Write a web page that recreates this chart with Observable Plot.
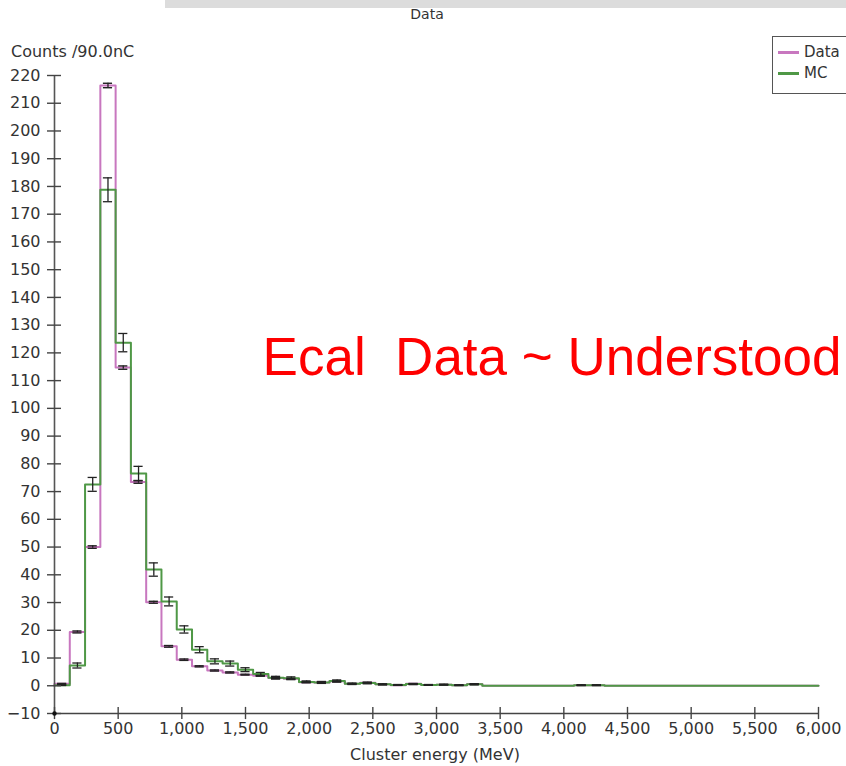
<!DOCTYPE html>
<html><head><meta charset="utf-8">
<script src="https://cdn.jsdelivr.net/npm/d3@7"></script>
<script src="https://cdn.jsdelivr.net/npm/@observablehq/plot@0.6"></script>
<style>
body{margin:0;background:#fff;}
#wrap{position:relative;width:846px;height:766px;overflow:hidden;font-family:"DejaVu Sans",sans-serif;color:#333;background:#fff;}
.abs{position:absolute;white-space:nowrap;line-height:20px;height:20px;}
#wrap svg{position:absolute;left:0;top:0;}
</style></head><body><div id="wrap"></div>
<script>
// Histogram bins: 50 bins of 120 MeV from 0 to 6000 MeV
const binEdges = d3.range(0, 6000, 120);
const dataCounts = [0.7, 19.4, 50.0, 216.4, 114.7, 73.5, 30.1, 14.2, 9.4, 7.0,
  5.5, 4.8, 4.0, 3.6, 2.8, 2.5, 1.3, 1.2, 1.6, 0.7,
  1.1, 0.5, 0.2, 0.7, 0.3, 0.4, 0.2, 0.6, 0, 0,
  0, 0, 0, 0, 0.2, 0.2, 0, 0, 0, 0,
  0, 0, 0, 0, 0, 0, 0, 0, 0, 0];
const dataErr = [0.15, 0.35, 0.45, 0.8, 0.6, 0.5, 0.35, 0.3, 0.25, 0.2,
  0.2, 0.2, 0.15, 0.15, 0.15, 0.15, 0.1, 0.1, 0.12, 0.1,
  0.1, 0.08, 0.06, 0.1, 0.06, 0.06, 0.06, 0.1, 0, 0,
  0, 0, 0, 0, 0.06, 0.06, 0, 0, 0, 0,
  0, 0, 0, 0, 0, 0, 0, 0, 0, 0];
const mcCounts = [0.2, 7.3, 72.6, 178.8, 123.7, 76.5, 41.9, 30.4, 20.3, 13.0,
  8.8, 8.0, 5.8, 4.2, 2.9, 2.7, 1.4, 1.2, 1.7, 0.7,
  1.0, 0.5, 0.3, 0.6, 0.3, 0.4, 0.2, 0.5, 0, 0,
  0, 0, 0, 0, 0.2, 0.2, 0, 0, 0, 0,
  0, 0, 0, 0, 0, 0, 0, 0, 0, 0];
const mcErr = [0.1, 0.9, 2.5, 4.3, 3.3, 2.6, 2.4, 1.6, 1.3, 1.1,
  0.9, 0.9, 0.7, 0.6, 0.5, 0.5, 0.35, 0.35, 0.4, 0.25,
  0.3, 0.2, 0.15, 0.2, 0.15, 0.15, 0.12, 0.2, 0, 0,
  0, 0, 0, 0, 0.12, 0.12, 0, 0, 0, 0,
  0, 0, 0, 0, 0, 0, 0, 0, 0, 0];
const xTicks = [0, 500, 1000, 1500, 2000, 2500, 3000, 3500, 4000, 4500, 5000, 5500, 6000];
const yTicks = [-10, 0, 10, 20, 30, 40, 50, 60, 70, 80, 90, 100, 110, 120, 130, 140, 150, 160, 170, 180, 190, 200, 210, 220];
const seriesNames = ["Data", "MC"];
const seriesColors = ["#c877bf", "#4f9846"];
const xLabel = "Cluster energy (MeV)";
const yLabel = "Counts /90.0nC";
const title = "Data";
const annotation = "Ecal\u00a0 Data ~ Understood";

const binW = 120;
function steps(vals) {
  const pts = [{x: 0, y: 0}];
  binEdges.forEach((e, i) => pts.push({x: e, y: vals[i]}));
  pts.push({x: 6000, y: 0});
  return pts;
}
function errs(vals, e) {
  return binEdges.map((s, i) => ({c: s + binW / 2, v: vals[i], e: e[i]})).filter(d => d.v > 0 && d.e > 0);
}
const dErr = errs(dataCounts, dataErr);
const mErr = errs(mcCounts, mcErr);
const capHalf = 36;

const chart = Plot.plot({
  width: 846, height: 766,
  marginLeft: 54, marginRight: 28, marginTop: 75, marginBottom: 53,
  x: {domain: [0, 6000]},
  y: {domain: [-10, 220]},
  style: {fontFamily: "DejaVu Sans, sans-serif", fontSize: "16px", background: "transparent", overflow: "visible"},
  marks: [
    Plot.line(steps(dataCounts), {x: "x", y: "y", curve: "step-after", stroke: seriesColors[0], strokeWidth: 2}),
    Plot.line(steps(mcCounts), {x: "x", y: "y", curve: "step-after", stroke: seriesColors[1], strokeWidth: 2}),
    // MC error bars
    Plot.ruleX(mErr, {x: "c", y1: d => d.v - d.e, y2: d => d.v + d.e, stroke: "#222", strokeWidth: 1.3}),
    Plot.ruleY(mErr, {y: d => d.v - d.e, x1: d => d.c - capHalf, x2: d => d.c + capHalf, stroke: "#222", strokeWidth: 1.3}),
    Plot.ruleY(mErr, {y: d => d.v + d.e, x1: d => d.c - capHalf, x2: d => d.c + capHalf, stroke: "#222", strokeWidth: 1.3}),
    // Data error bars
    Plot.ruleX(dErr, {x: "c", y1: d => d.v - d.e, y2: d => d.v + d.e, stroke: "#222", strokeWidth: 1.3}),
    Plot.ruleY(dErr, {y: d => d.v - d.e, x1: d => d.c - capHalf, x2: d => d.c + capHalf, stroke: "#222", strokeWidth: 1.4}),
    Plot.ruleY(dErr, {y: d => d.v + d.e, x1: d => d.c - capHalf, x2: d => d.c + capHalf, stroke: "#222", strokeWidth: 1.4}),
    // axes lines
    Plot.ruleX([0], {y1: -10, y2: 220, stroke: "#555", strokeWidth: 1.6}),
    Plot.ruleY([-10], {x1: 0, x2: 6000, stroke: "#444", strokeWidth: 1.6}),
    Plot.ruleY(yTicks, {y: d => d, x1: -55, x2: 55, stroke: "#444", strokeWidth: 1.4}),
    Plot.ruleX(xTicks, {x: d => d, y1: -12.2, y2: -7.8, stroke: "#444", strokeWidth: 1.4}),
    Plot.dot([{x: 0, y: -10}], {x: "x", y: "y", r: 2.2, fill: "#111", stroke: null}),
    Plot.axisY(yTicks, {tickSize: 0, tickPadding: 14, fontSize: 16, fill: "#333", label: null}),
    Plot.axisX(xTicks, {tickSize: 0, tickPadding: 9, fontSize: 16, fill: "#333", tickFormat: d3.format(","), label: null}),
    Plot.text([annotation], {x: 1634, y: 118, text: d => d, textAnchor: "start", fill: "#ff0000",
      fontSize: 53, fontFamily: "Liberation Sans, Arial, sans-serif"})
  ]
});
const wrap = document.getElementById("wrap");
wrap.appendChild(chart);

function addDiv(html, css) {
  const d = document.createElement("div");
  d.className = "abs";
  d.innerHTML = html;
  Object.assign(d.style, css);
  wrap.appendChild(d);
  return d;
}
// top grey band and title
addDiv("", {left: "165px", top: "0px", width: "681px", height: "8px", background: "#dcdcdc"});
addDiv(title, {left: "377px", top: "4px", width: "100px", textAlign: "center", fontSize: "14px"});
addDiv(yLabel, {left: "11px", top: "42px", fontSize: "16px"});
addDiv(xLabel, {left: "285px", top: "745px", width: "300px", textAlign: "center", fontSize: "16px"});
// legend
const leg = addDiv("", {left: "772px", top: "36px", width: "90px", height: "56px", border: "1.5px solid #555", background: "#fff"});
seriesNames.forEach((n, i) => {
  const row = document.createElement("div");
  row.style.cssText = `position:absolute;left:5px;top:${6 + i * 21}px;height:18px;line-height:18px;font-size:15px;white-space:nowrap;`;
  row.innerHTML = `<span style="display:inline-block;width:21px;height:3px;background:${seriesColors[i]};vertical-align:middle;margin-right:5px"></span>${n}`;
  leg.appendChild(row);
});
</script></body></html>
